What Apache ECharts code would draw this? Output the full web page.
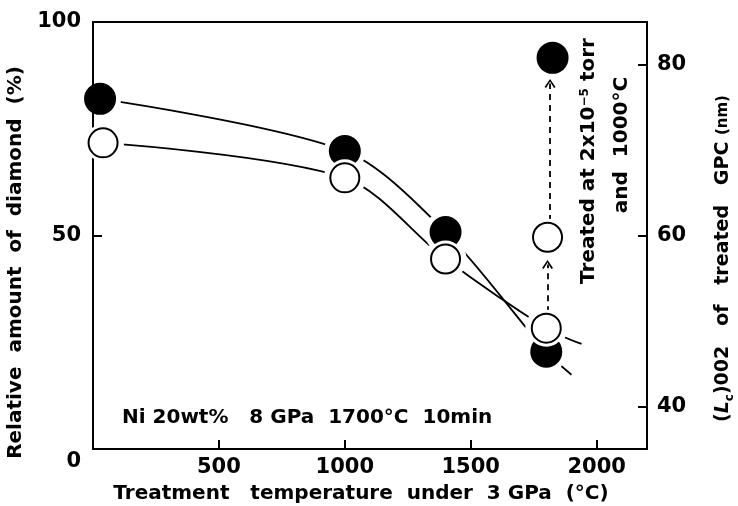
<!DOCTYPE html>
<html>
<head>
<meta charset="utf-8">
<script src="https://cdn.jsdelivr.net/npm/echarts@6/dist/echarts.min.js"></script>
<style>
  html, body { margin: 0; padding: 0; background: #fff; }
  #chart { width: 738px; height: 506px; }
</style>
</head>
<body>
<div id="chart"></div>
<script>
// filled circles: (Lc)002 of treated GPC, nm (right axis)
const filledTemp = [28, 1000, 1400, 1800];
const filledLc = [76.0, 69.9, 60.4, 46.4];
// open circles: relative amount of diamond, % (left axis)
const openTemp = [40, 1000, 1400, 1800];
const openDiamond = [71.7, 63.5, 44.5, 28.3];

// the drawn curves run on a bit past the last point
const filledTailTemp = [1900];
const filledTailLc = [43.7];
const openTailTemp = [1940];
const openTailDiamond = [24.6];

// after treatment at 2x10^-5 torr and 1000°C
const treatedFilledTemp = [1825];
const treatedFilledLc = [80.8];
const treatedOpenTemp = [1805];
const treatedOpenDiamond = [49.6];

// dashed arrows: [temp, from, to]
const arrowOpen = [1805, 32.0, 43.2];     // left axis units
const arrowFilled = [1815, 61.7, 77.8];   // right axis units

const xTicks = [500, 1000, 1500, 2000];
const leftTicks = [0, 50, 100];
const rightTicks = [40, 60, 80];

const FONT = '"DejaVu Sans", sans-serif';
const pairs = (xs, ys) => xs.map((x, i) => [x, ys[i]]);

const chart = echarts.init(document.getElementById('chart'), null, { renderer: 'canvas' });

const filledPts = pairs(filledTemp, filledLc);
const openPts = pairs(openTemp, openDiamond);
const treatedFilled = pairs(treatedFilledTemp, treatedFilledLc);
const treatedOpen = pairs(treatedOpenTemp, treatedOpenDiamond);

const chevron = 'path://M5,0 L10,8 L8.6,9 L5,2.6 L1.4,9 L0,8 Z';
const arrowLine = (a) => ({
    silent: true,
    symbol: ['none', chevron],
    symbolSize: [11, 9],
    lineStyle: { color: '#000', width: 1.8, type: [6, 5] },
    label: { show: false },
    emphasis: { disabled: true },
    data: [[{ coord: [a[0], a[1]] }, { coord: [a[0], a[2]] }]]
});

const boldText = { color: '#000', fontFamily: FONT, fontWeight: 'bold' };

const option = {
    backgroundColor: '#fff',
    animation: false,
    grid: {
        left: 93, right: 91, top: 22, bottom: 57, outerBoundsMode: 'none',
        show: true, borderColor: '#000', borderWidth: 2
    },
    xAxis: {
        type: 'value', min: 0, max: 2200, z: 3,
        name: 'Treatment   temperature  under  3 GPa  (°C)',
        nameLocation: 'middle', nameGap: 35,
        nameTextStyle: Object.assign({ fontSize: 20, padding: [0, 18, 0, 0] }, boldText),
        axisLine: { lineStyle: { color: '#000', width: 2 } },
        axisTick: { inside: true, length: 9, customValues: xTicks, lineStyle: { color: '#000', width: 2 } },
        axisLabel: Object.assign({ customValues: xTicks, fontSize: 21, margin: 8, formatter: v => String(v) }, boldText),
        splitLine: { show: false }
    },
    yAxis: [
        {
            type: 'value', min: 0, max: 100, position: 'left', z: 3,
            name: 'Relative  amount  of  diamond  (%)',
            nameLocation: 'middle', nameGap: 60, nameRotate: 90,
            nameTextStyle: Object.assign({ fontSize: 20, padding: [0, 54, 0, 0] }, boldText),
            axisLine: { show: true, lineStyle: { color: '#000', width: 2 } },
            axisTick: { show: true, inside: true, length: 9, customValues: [50], lineStyle: { color: '#000', width: 2 } },
            axisLabel: Object.assign({
                customValues: leftTicks, fontSize: 21, margin: 12,
                formatter: v => v === 0 ? '{z|0}' : String(v),
                rich: { z: Object.assign({ padding: [26, 0, 0, 0], fontSize: 21 }, boldText) }
            }, boldText),
            splitLine: { show: false }
        },
        {
            type: 'value', min: 35, max: 85, position: 'right', z: 3,
            name: '{p|(}{L|L}{s|c}{p|)002   of   treated   GPC }{n|(nm)}',
            nameLocation: 'middle', nameGap: 63, nameRotate: 90,
            nameTextStyle: Object.assign({
                fontSize: 19, padding: [0, 46, 0, 0],
                rich: {
                    p: Object.assign({ fontSize: 19 }, boldText),
                    L: Object.assign({ fontSize: 19, fontStyle: 'italic' }, boldText),
                    s: Object.assign({ fontSize: 12, verticalAlign: 'bottom', lineHeight: 26 }, boldText),
                    n: Object.assign({ fontSize: 15 }, boldText)
                }
            }, boldText),
            axisLine: { show: true, lineStyle: { color: '#000', width: 2 } },
            axisTick: { show: true, inside: true, length: 9, customValues: rightTicks, lineStyle: { color: '#000', width: 2 } },
            axisLabel: Object.assign({ customValues: rightTicks, fontSize: 21, margin: 10 }, boldText),
            splitLine: { show: false }
        }
    ],
    graphic: [
        {
            type: 'text', left: 122, top: 408,
            style: { text: 'Ni 20wt%   8 GPa  1700°C  10min', font: 'bold 20px ' + FONT, fill: '#000' }
        },
        {
            type: 'text', x: 589, y: 161, rotation: Math.PI / 2,
            style: {
                text: '{t|Treated at 2x10}{u|−5}{t| torr}',
                align: 'center', verticalAlign: 'middle',
                rich: {
                    t: { font: 'bold 20px ' + FONT, fill: '#000' },
                    u: { font: 'bold 12px ' + FONT, fill: '#000', verticalAlign: 'top' }
                }
            }
        },
        {
            type: 'text', x: 622, y: 145, rotation: Math.PI / 2,
            style: { text: 'and  1000°C', font: 'bold 20px ' + FONT, fill: '#000', align: 'center', verticalAlign: 'middle' }
        }
    ],
    series: [
        {
            type: 'line', yAxisIndex: 1, z: 1, smooth: 0.3, showSymbol: false, silent: true,
            data: filledPts.concat(pairs(filledTailTemp, filledTailLc)),
            lineStyle: { color: '#000', width: 1.8 }
        },
        {
            type: 'line', yAxisIndex: 0, z: 1, smooth: 0.3, showSymbol: false, silent: true,
            data: openPts.concat(pairs(openTailTemp, openTailDiamond)),
            lineStyle: { color: '#000', width: 1.8 }
        },
        // white halos leave a small gap between the curves and the circles
        {
            type: 'scatter', yAxisIndex: 1, z: 2, silent: true, symbolSize: 42,
            data: filledPts.concat(treatedFilled), itemStyle: { color: '#fff', opacity: 1 }
        },
        {
            type: 'scatter', yAxisIndex: 0, z: 2, silent: true, symbolSize: 42,
            data: openPts.concat(treatedOpen), itemStyle: { color: '#fff', opacity: 1 }
        },
        {
            type: 'scatter', yAxisIndex: 1, z: 4, silent: true, symbolSize: 32,
            data: filledPts.concat(treatedFilled), itemStyle: { color: '#000', opacity: 1 },
            markLine: arrowLine(arrowFilled)
        },
        {
            type: 'scatter', yAxisIndex: 0, z: 5, silent: true, symbolSize: 37,
            data: openPts.concat(treatedOpen), itemStyle: { color: '#fff', opacity: 1 }
        },
        {
            type: 'scatter', yAxisIndex: 0, z: 6, silent: true, symbolSize: 29,
            data: openPts.concat(treatedOpen),
            itemStyle: { color: '#fff', borderColor: '#000', borderWidth: 2, opacity: 1 },
            markLine: arrowLine(arrowOpen)
        }
    ]
};

chart.setOption(option);
</script>
</body>
</html>
